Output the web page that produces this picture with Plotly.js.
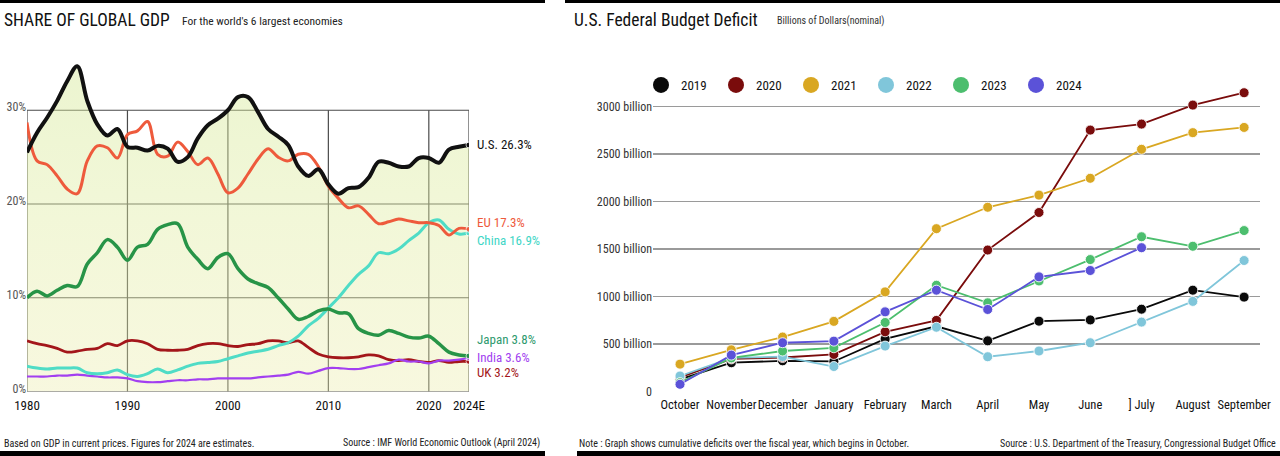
<!DOCTYPE html>
<html>
<head>
<meta charset="utf-8">
<script src="https://cdn.plot.ly/plotly-3.0.1.min.js"></script>
<style>html,body{margin:0;padding:0;background:#fff;}#chart{width:1280px;height:456px;}</style>
</head>
<body>
<div id="chart"></div>
<script>
// ---------- Left chart data: share of global GDP (%) ----------
const years = [1980,1981,1982,1983,1984,1985,1986,1987,1988,1989,
               1990,1991,1992,1993,1994,1995,1996,1997,1998,1999,
               2000,2001,2002,2003,2004,2005,2006,2007,2008,2009,
               2010,2011,2012,2013,2014,2015,2016,2017,2018,2019,
               2020,2021,2022,2023,2024];
const usShare    = [25.5,27.6,29.2,31.0,33.1,34.7,31.0,28.5,27.3,28.0,
                    26.1,26.0,25.7,26.2,25.9,24.5,25.0,27.0,28.4,29.1,
                    30.0,31.4,31.4,29.8,28.0,27.2,26.3,24.0,23.0,23.7,
                    22.1,21.1,21.7,21.8,22.8,24.5,24.4,24.0,24.0,24.9,
                    24.9,24.4,25.8,26.1,26.3];
const euShare    = [28.7,24.6,24.2,23.0,21.6,21.1,24.6,26.2,26.0,24.9,
                    27.4,27.8,28.8,25.3,25.1,26.6,25.6,24.2,24.9,23.2,
                    21.2,21.7,23.2,24.8,25.9,25.0,24.6,25.3,25.3,24.0,
                    21.9,20.6,19.6,19.8,18.9,17.9,18.1,18.4,18.2,18.0,
                    18.0,17.7,16.7,17.4,17.3];
const chinaShare = [2.7,2.5,2.4,2.5,2.5,2.5,2.0,1.9,2.0,2.3,
                    1.8,1.6,1.9,2.4,2.0,2.3,2.7,3.0,3.1,3.2,
                    3.5,3.8,4.1,4.3,4.5,4.9,5.2,5.9,7.0,7.8,
                    8.9,10.0,11.3,12.5,13.4,14.8,14.7,15.2,16.1,16.9,
                    18.0,18.3,17.3,16.8,16.9];
const japanShare = [10.0,10.7,10.2,10.8,11.3,11.2,13.6,14.8,16.2,15.4,
                    14.0,15.4,15.7,17.3,17.8,17.9,15.4,14.1,13.1,14.3,
                    14.7,13.1,12.0,11.5,11.1,10.0,8.8,7.7,8.0,8.6,
                    8.8,8.4,8.3,6.7,6.2,6.0,6.5,6.2,5.8,5.7,
                    5.9,5.1,4.2,3.9,3.8];
const indiaShare = [1.6,1.6,1.6,1.7,1.7,1.8,1.7,1.6,1.5,1.5,
                    1.4,1.1,1.0,1.0,1.1,1.2,1.2,1.3,1.3,1.4,
                    1.4,1.4,1.4,1.5,1.6,1.7,1.8,2.1,1.9,2.2,
                    2.5,2.5,2.4,2.4,2.6,2.8,3.0,3.4,3.2,3.2,
                    3.0,3.3,3.3,3.4,3.6];
const ukShare    = [5.4,5.1,4.9,4.6,4.2,4.3,4.5,4.6,5.1,4.9,
                    5.4,5.4,5.1,4.5,4.4,4.4,4.5,4.9,5.1,5.1,
                    4.9,4.8,5.0,5.1,5.4,5.4,5.2,5.4,4.7,4.0,
                    3.7,3.6,3.6,3.7,3.9,3.8,3.4,3.3,3.4,3.2,
                    3.1,3.3,3.1,3.2,3.2];
const gdpNames = ['U.S.','EU','China','Japan','India','UK'];
const gdpTickVals = [1980,1990,2000,2010,2020,2024];
const gdpTickText = ['1980','1990','2000','2010','2020','2024E'];
const gdpYTicks = [0,10,20,30];
const gdpYText = ['0%','10%','20%','30%'];

// ---------- Right chart data: cumulative deficit (billions USD) ----------
const months = ['October','November','December','January','February','March',
                'April','May','June','] July','August','September'];
const fiscalYears = ['2019','2020','2021','2022','2023','2024'];
const def2019 = [130,305,325,318,555,688,535,742,755,868,1068,995];
const def2020 = [150,345,360,392,630,750,1490,1885,2752,2815,3015,3145];
const def2021 = [290,440,575,740,1050,1715,1940,2068,2245,2550,2725,2780];
const def2022 = [165,355,370,265,480,678,368,428,515,732,950,1380];
const def2023 = [95,355,428,462,728,1120,935,1165,1390,1630,1530,1695];
const def2024 = [78,385,515,532,840,1068,865,1208,1275,1515];
const defTickVals = [0,500,1000,1500,2000,2500,3000];
const defTickText = ['0','500 billion','1000 billion','1500 billion','2000 billion','2500 billion','3000 billion'];

// ---------- styling ----------
const NARROW = '"Liberation Sans Narrow", "Roboto Condensed", "DejaVu Sans Condensed", "Arial Narrow", sans-serif';
const gdpSeries = [usShare, euShare, chinaShare, japanShare, indiaShare, ukShare];
const gdpColors = ['#111111','#ee5a3c','#4fdcc6','#279447','#a23ff0','#a3161a'];
const gdpLabelColors = ['#111111','#ee5a3c','#3fd6c6','#2e9a6e','#a23ff0','#a3161a'];
const gdpWidths = [4,3,3,3.5,2.2,2.8];
const gdpLabelShift = [0,7,-7,16,0,-11];
const defSeries = [def2019,def2020,def2021,def2022,def2023,def2024];
const defColors = ['#0a0a0a','#7a0c0c','#d9a722','#80c6da','#4cbe6e','#5b52d8'];

const traces = [];
// fill under U.S. line (semi-transparent so the grid shows through)
traces.push({
  x: years, y: usShare, xaxis:'x', yaxis:'y', type:'scatter', mode:'lines',
  line:{width:0, shape:'spline', smoothing:1, color:'rgba(0,0,0,0)'},
  fill:'tozeroy',
  fillgradient:{type:'vertical', colorscale:[[0,'rgba(236,236,170,0.38)'],[0.6,'rgba(222,236,160,0.42)'],[1,'rgba(212,232,150,0.45)']]},
  showlegend:false, hoverinfo:'skip'
});
// draw order: others first, U.S. last
const order = [5,4,2,3,1,0];
order.forEach(i => {
  const n = gdpSeries[i].length;
  traces.push({
    x: years, y: gdpSeries[i], xaxis:'x', yaxis:'y', type:'scatter', mode:'lines+markers',
    line:{color:gdpColors[i], width:gdpWidths[i], shape:'spline', smoothing:1},
    marker:{color:gdpColors[i], size: gdpSeries[i].map((v,k)=> k===n-1 ? 6 : 0)},
    showlegend:false, name:gdpNames[i]
  });
});
// deficit lines
defSeries.forEach((d,i) => {
  traces.push({
    x: months.slice(0,d.length), y: d, xaxis:'x2', yaxis:'y2', type:'scatter', mode:'lines+markers',
    line:{color:defColors[i], width:1.8},
    marker:{color:defColors[i], size:10, line:{color:'rgba(255,255,255,0.85)', width:1}},
    showlegend:false, name:fiscalYears[i]
  });
});
// legend entries
fiscalYears.forEach((fy,i) => {
  traces.push({
    x:[null], y:[null], xaxis:'x2', yaxis:'y2', type:'scatter', mode:'markers',
    marker:{color:defColors[i], size:16}, name:fy, showlegend:true
  });
});

// grid shapes for left chart (data coords)
const shapes = [];
const gridCol = '#4a4a4a';
gdpTickVals.forEach(v => {
  shapes.push({type:'line', xref:'x', yref:'y', x0:v, x1:v, y0:0, y1:30, line:{color:gridCol, width:1.2}, layer:'below'});
});
gdpYTicks.forEach(v => {
  shapes.push({type:'line', xref:'x', yref:'y', x0:1980, x1:2024, y0:v, y1:v, line:{color:gridCol, width:1.2}, layer:'below'});
});
// black bars (decor)
const barH = 3/456, barB = 5/456;
shapes.push({type:'rect', xref:'paper', yref:'paper', x0:0, x1:545/1280, y0:1-barH, y1:1, fillcolor:'#000', line:{width:0}});
shapes.push({type:'rect', xref:'paper', yref:'paper', x0:565/1280, x1:1, y0:1-barH, y1:1, fillcolor:'#000', line:{width:0}});
shapes.push({type:'rect', xref:'paper', yref:'paper', x0:0, x1:545/1280, y0:0, y1:barB, fillcolor:'#000', line:{width:0}});
shapes.push({type:'rect', xref:'paper', yref:'paper', x0:577/1280, x1:1, y0:0, y1:barB, fillcolor:'#000', line:{width:0}});

const py = px => (456 - px) / 456;
const annotations = [];
// titles
annotations.push({xref:'paper', yref:'paper', x:2/1280, y:py(20), xanchor:'left', yanchor:'middle', showarrow:false,
  text:'SHARE OF GLOBAL GDP', font:{family:NARROW, size:17.5, color:'#111'}});
annotations.push({xref:'paper', yref:'paper', x:180/1280, y:py(21), xanchor:'left', yanchor:'middle', showarrow:false,
  text:"For the world's 6 largest economies", font:{family:NARROW, size:11.5, color:'#222'}});
annotations.push({xref:'paper', yref:'paper', x:572/1280, y:py(20), xanchor:'left', yanchor:'middle', showarrow:false,
  text:'U.S. Federal Budget Deficit', font:{family:NARROW, size:17.5, color:'#111'}});
annotations.push({xref:'paper', yref:'paper', x:775/1280, y:py(21), xanchor:'left', yanchor:'middle', showarrow:false,
  text:'Billions of Dollars(nominal)', font:{family:NARROW, size:10, color:'#333'}});
// footers
annotations.push({xref:'paper', yref:'paper', x:2/1280, y:py(443), xanchor:'left', yanchor:'middle', showarrow:false,
  text:'Based on GDP in current prices. Figures for 2024 are estimates.', font:{family:NARROW, size:10, color:'#222'}});
annotations.push({xref:'paper', yref:'paper', x:542/1280, y:py(443), xanchor:'right', yanchor:'middle', showarrow:false,
  text:'Source : IMF World Economic Outlook (April 2024)', font:{family:NARROW, size:10, color:'#222'}});
annotations.push({xref:'paper', yref:'paper', x:577/1280, y:py(443), xanchor:'left', yanchor:'middle', showarrow:false,
  text:'Note : Graph shows cumulative deficits over the fiscal year, which begins in October.', font:{family:NARROW, size:10, color:'#222'}});
annotations.push({xref:'paper', yref:'paper', x:1278/1280, y:py(443), xanchor:'right', yanchor:'middle', showarrow:false,
  text:'Source : U.S. Department of the Treasury, Congressional Budget Office', font:{family:NARROW, size:10, color:'#222'}});
// end labels for left chart
gdpSeries.forEach((s,i) => {
  const last = s[s.length-1];
  annotations.push({xref:'x', yref:'y', x:years[years.length-1], y:last, xanchor:'left', yanchor:'middle',
    xshift:6, yshift:gdpLabelShift[i], showarrow:false,
    text: gdpNames[i] + ' ' + last.toFixed(1) + '%', font:{family:NARROW, size:13, color:gdpLabelColors[i]}});
});

const layout = {
  width:1280, height:456, margin:{l:0,r:0,t:0,b:0},
  paper_bgcolor:'#fff', plot_bgcolor:'rgba(0,0,0,0)',
  showlegend:true,
  xaxis:{domain:[27/1280, 469/1280], range:[1980,2024], showgrid:false, zeroline:false, showline:false,
    tickvals:gdpTickVals, ticktext:gdpTickText, ticks:'', ticklabelstandoff:4,
    tickfont:{family:NARROW, size:13, color:'#111'}},
  yaxis:{domain:[py(391.5), py(54)], range:[0,36], showgrid:false, zeroline:false, showline:false,
    tickvals:gdpYTicks, ticktext:gdpYText, ticks:'', ticklabelshift:-3,
    tickfont:{family:NARROW, size:12, color:'#555'}},
  xaxis2:{domain:[653/1280, 1260/1280], range:[-0.527, 11.31], type:'category', showgrid:false, zeroline:false,
    showline:false, ticks:'', tickangle:0, ticklabelstandoff:4,
    tickfont:{family:NARROW, size:12.5, color:'#111'}, anchor:'y2'},
  yaxis2:{domain:[py(391.7), py(78)], range:[0,3300], anchor:'x2', showgrid:true, gridcolor:'#9a9a9a', gridwidth:1.5,
    zeroline:false, showline:false, tickvals:defTickVals, ticktext:defTickText, ticks:'',
    tickfont:{family:NARROW, size:12, color:'#333'}},
  legend:{orientation:'h', x:641/1280, xanchor:'left', y:py(85), yanchor:'middle', bgcolor:'rgba(0,0,0,0)',
    font:{family:NARROW, size:13, color:'#111'}, itemsizing:'trace', entrywidth:30, entrywidthmode:'pixels'},
  shapes:shapes, annotations:annotations
};

Plotly.newPlot('chart', traces, layout, {staticPlot:true, displayModeBar:false});
</script>
</body>
</html>
